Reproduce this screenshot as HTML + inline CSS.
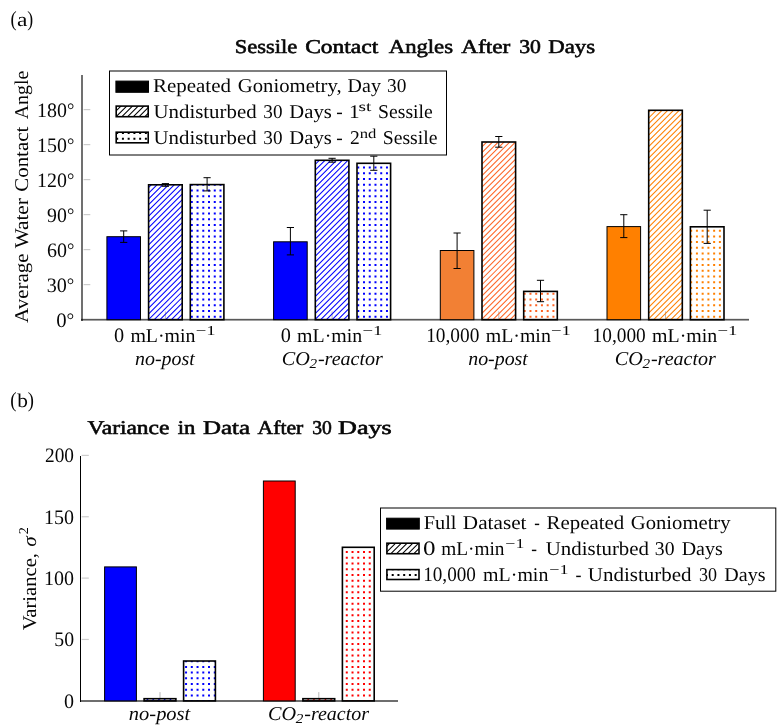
<!DOCTYPE html>
<html><head><meta charset="utf-8"><title>chart</title><style>
html,body{margin:0;padding:0;background:#fff;width:783px;height:728px;overflow:hidden;}
svg{display:block;}
text{font-family:"Liberation Serif",serif;fill:#000;white-space:pre;text-rendering:geometricPrecision;}

</style></head><body>
<svg width="783" height="728" viewBox="0 0 783 728">
<defs>
<clipPath id="c0"><rect x="148.60" y="184.80" width="33.60" height="134.90"/></clipPath>
<clipPath id="c1"><rect x="190.30" y="184.60" width="33.60" height="135.10"/></clipPath>
<clipPath id="c2"><rect x="315.30" y="160.30" width="33.60" height="159.40"/></clipPath>
<clipPath id="c3"><rect x="357.00" y="163.30" width="33.60" height="156.40"/></clipPath>
<clipPath id="c4"><rect x="482.00" y="142.00" width="33.60" height="177.70"/></clipPath>
<clipPath id="c5"><rect x="523.70" y="291.40" width="33.60" height="28.30"/></clipPath>
<clipPath id="c6"><rect x="648.70" y="110.30" width="33.60" height="209.40"/></clipPath>
<clipPath id="c7"><rect x="690.40" y="226.80" width="33.60" height="92.90"/></clipPath>
<clipPath id="c8"><rect x="116.20" y="106.10" width="32.00" height="10.60"/></clipPath>
<clipPath id="c9"><rect x="116.20" y="132.20" width="32.00" height="10.60"/></clipPath>
<clipPath id="c10"><rect x="144.10" y="698.70" width="31.80" height="2.20"/></clipPath>
<clipPath id="c11"><rect x="183.60" y="661.00" width="31.80" height="39.90"/></clipPath>
<clipPath id="c12"><rect x="302.90" y="698.70" width="31.80" height="2.20"/></clipPath>
<clipPath id="c13"><rect x="342.40" y="547.30" width="31.80" height="153.60"/></clipPath>
<clipPath id="c14"><rect x="386.90" y="543.20" width="32.10" height="10.50"/></clipPath>
<clipPath id="c15"><rect x="386.90" y="569.60" width="32.10" height="9.90"/></clipPath>
</defs>
<rect width="783" height="728" fill="#fff"/>
<g shape-rendering="crispEdges"><rect x="81" y="75" width="1" height="246" fill="#000" fill-opacity="0.56"/><rect x="82" y="75" width="1" height="246" fill="#000" fill-opacity="0.56"/><rect x="81" y="318" width="668" height="1" fill="#000" fill-opacity="0.10"/><rect x="81" y="319" width="668" height="1" fill="#000" fill-opacity="0.65"/><rect x="81" y="320" width="668" height="1" fill="#000" fill-opacity="0.37"/></g>
<path d="M83.6,284.60 H90.3" stroke="#cccccc" stroke-width="1.2"/>
<path d="M83.6,249.60 H90.3" stroke="#cccccc" stroke-width="1.2"/>
<path d="M83.6,214.60 H90.3" stroke="#cccccc" stroke-width="1.2"/>
<path d="M83.6,179.60 H90.3" stroke="#cccccc" stroke-width="1.2"/>
<path d="M83.6,144.60 H90.3" stroke="#cccccc" stroke-width="1.2"/>
<path d="M83.6,109.60 H90.3" stroke="#cccccc" stroke-width="1.2"/>
<path d="M165.40,319.2 V311.4" stroke="#888888" stroke-width="0.6"/>
<path d="M332.10,319.2 V311.4" stroke="#888888" stroke-width="0.6"/>
<path d="M498.80,319.2 V311.4" stroke="#888888" stroke-width="0.6"/>
<path d="M665.50,319.2 V311.4" stroke="#888888" stroke-width="0.6"/>
<rect x="106.90" y="236.70" width="33.60" height="83.00" fill="#0000ff" stroke="#000" stroke-width="1.00"/>
<g clip-path="url(#c0)"><path d="M146.60,178.04 L184.20,140.44 M146.60,183.78 L184.20,146.18 M146.60,189.52 L184.20,151.92 M146.60,195.26 L184.20,157.66 M146.60,201.00 L184.20,163.40 M146.60,206.74 L184.20,169.14 M146.60,212.48 L184.20,174.88 M146.60,218.22 L184.20,180.62 M146.60,223.96 L184.20,186.36 M146.60,229.70 L184.20,192.10 M146.60,235.44 L184.20,197.84 M146.60,241.18 L184.20,203.58 M146.60,246.92 L184.20,209.32 M146.60,252.66 L184.20,215.06 M146.60,258.40 L184.20,220.80 M146.60,264.14 L184.20,226.54 M146.60,269.88 L184.20,232.28 M146.60,275.62 L184.20,238.02 M146.60,281.36 L184.20,243.76 M146.60,287.10 L184.20,249.50 M146.60,292.84 L184.20,255.24 M146.60,298.58 L184.20,260.98 M146.60,304.32 L184.20,266.72 M146.60,310.06 L184.20,272.46 M146.60,315.80 L184.20,278.20 M146.60,321.54 L184.20,283.94 M146.60,327.28 L184.20,289.68 M146.60,333.02 L184.20,295.42 M146.60,338.76 L184.20,301.16 M146.60,344.50 L184.20,306.90 M146.60,350.24 L184.20,312.64 M146.60,355.98 L184.20,318.38 M146.60,361.72 L184.20,324.12" stroke="#0000ff" stroke-width="1.05" fill="none"/></g><rect x="148.60" y="184.80" width="33.60" height="134.90" fill="none" stroke="#000" stroke-width="1.60"/>
<g clip-path="url(#c1)"><path d="M190.80,183.72h2.00v2.00h-2.00zM190.80,189.46h2.00v2.00h-2.00zM190.80,195.20h2.00v2.00h-2.00zM190.80,200.94h2.00v2.00h-2.00zM190.80,206.68h2.00v2.00h-2.00zM190.80,212.42h2.00v2.00h-2.00zM190.80,218.16h2.00v2.00h-2.00zM190.80,223.90h2.00v2.00h-2.00zM190.80,229.64h2.00v2.00h-2.00zM190.80,235.38h2.00v2.00h-2.00zM190.80,241.12h2.00v2.00h-2.00zM190.80,246.86h2.00v2.00h-2.00zM190.80,252.60h2.00v2.00h-2.00zM190.80,258.34h2.00v2.00h-2.00zM190.80,264.08h2.00v2.00h-2.00zM190.80,269.82h2.00v2.00h-2.00zM190.80,275.56h2.00v2.00h-2.00zM190.80,281.30h2.00v2.00h-2.00zM190.80,287.04h2.00v2.00h-2.00zM190.80,292.78h2.00v2.00h-2.00zM190.80,298.52h2.00v2.00h-2.00zM190.80,304.26h2.00v2.00h-2.00zM190.80,310.00h2.00v2.00h-2.00zM190.80,315.74h2.00v2.00h-2.00zM196.54,183.72h2.00v2.00h-2.00zM196.54,189.46h2.00v2.00h-2.00zM196.54,195.20h2.00v2.00h-2.00zM196.54,200.94h2.00v2.00h-2.00zM196.54,206.68h2.00v2.00h-2.00zM196.54,212.42h2.00v2.00h-2.00zM196.54,218.16h2.00v2.00h-2.00zM196.54,223.90h2.00v2.00h-2.00zM196.54,229.64h2.00v2.00h-2.00zM196.54,235.38h2.00v2.00h-2.00zM196.54,241.12h2.00v2.00h-2.00zM196.54,246.86h2.00v2.00h-2.00zM196.54,252.60h2.00v2.00h-2.00zM196.54,258.34h2.00v2.00h-2.00zM196.54,264.08h2.00v2.00h-2.00zM196.54,269.82h2.00v2.00h-2.00zM196.54,275.56h2.00v2.00h-2.00zM196.54,281.30h2.00v2.00h-2.00zM196.54,287.04h2.00v2.00h-2.00zM196.54,292.78h2.00v2.00h-2.00zM196.54,298.52h2.00v2.00h-2.00zM196.54,304.26h2.00v2.00h-2.00zM196.54,310.00h2.00v2.00h-2.00zM196.54,315.74h2.00v2.00h-2.00zM202.28,183.72h2.00v2.00h-2.00zM202.28,189.46h2.00v2.00h-2.00zM202.28,195.20h2.00v2.00h-2.00zM202.28,200.94h2.00v2.00h-2.00zM202.28,206.68h2.00v2.00h-2.00zM202.28,212.42h2.00v2.00h-2.00zM202.28,218.16h2.00v2.00h-2.00zM202.28,223.90h2.00v2.00h-2.00zM202.28,229.64h2.00v2.00h-2.00zM202.28,235.38h2.00v2.00h-2.00zM202.28,241.12h2.00v2.00h-2.00zM202.28,246.86h2.00v2.00h-2.00zM202.28,252.60h2.00v2.00h-2.00zM202.28,258.34h2.00v2.00h-2.00zM202.28,264.08h2.00v2.00h-2.00zM202.28,269.82h2.00v2.00h-2.00zM202.28,275.56h2.00v2.00h-2.00zM202.28,281.30h2.00v2.00h-2.00zM202.28,287.04h2.00v2.00h-2.00zM202.28,292.78h2.00v2.00h-2.00zM202.28,298.52h2.00v2.00h-2.00zM202.28,304.26h2.00v2.00h-2.00zM202.28,310.00h2.00v2.00h-2.00zM202.28,315.74h2.00v2.00h-2.00zM208.02,183.72h2.00v2.00h-2.00zM208.02,189.46h2.00v2.00h-2.00zM208.02,195.20h2.00v2.00h-2.00zM208.02,200.94h2.00v2.00h-2.00zM208.02,206.68h2.00v2.00h-2.00zM208.02,212.42h2.00v2.00h-2.00zM208.02,218.16h2.00v2.00h-2.00zM208.02,223.90h2.00v2.00h-2.00zM208.02,229.64h2.00v2.00h-2.00zM208.02,235.38h2.00v2.00h-2.00zM208.02,241.12h2.00v2.00h-2.00zM208.02,246.86h2.00v2.00h-2.00zM208.02,252.60h2.00v2.00h-2.00zM208.02,258.34h2.00v2.00h-2.00zM208.02,264.08h2.00v2.00h-2.00zM208.02,269.82h2.00v2.00h-2.00zM208.02,275.56h2.00v2.00h-2.00zM208.02,281.30h2.00v2.00h-2.00zM208.02,287.04h2.00v2.00h-2.00zM208.02,292.78h2.00v2.00h-2.00zM208.02,298.52h2.00v2.00h-2.00zM208.02,304.26h2.00v2.00h-2.00zM208.02,310.00h2.00v2.00h-2.00zM208.02,315.74h2.00v2.00h-2.00zM213.76,183.72h2.00v2.00h-2.00zM213.76,189.46h2.00v2.00h-2.00zM213.76,195.20h2.00v2.00h-2.00zM213.76,200.94h2.00v2.00h-2.00zM213.76,206.68h2.00v2.00h-2.00zM213.76,212.42h2.00v2.00h-2.00zM213.76,218.16h2.00v2.00h-2.00zM213.76,223.90h2.00v2.00h-2.00zM213.76,229.64h2.00v2.00h-2.00zM213.76,235.38h2.00v2.00h-2.00zM213.76,241.12h2.00v2.00h-2.00zM213.76,246.86h2.00v2.00h-2.00zM213.76,252.60h2.00v2.00h-2.00zM213.76,258.34h2.00v2.00h-2.00zM213.76,264.08h2.00v2.00h-2.00zM213.76,269.82h2.00v2.00h-2.00zM213.76,275.56h2.00v2.00h-2.00zM213.76,281.30h2.00v2.00h-2.00zM213.76,287.04h2.00v2.00h-2.00zM213.76,292.78h2.00v2.00h-2.00zM213.76,298.52h2.00v2.00h-2.00zM213.76,304.26h2.00v2.00h-2.00zM213.76,310.00h2.00v2.00h-2.00zM213.76,315.74h2.00v2.00h-2.00zM219.50,183.72h2.00v2.00h-2.00zM219.50,189.46h2.00v2.00h-2.00zM219.50,195.20h2.00v2.00h-2.00zM219.50,200.94h2.00v2.00h-2.00zM219.50,206.68h2.00v2.00h-2.00zM219.50,212.42h2.00v2.00h-2.00zM219.50,218.16h2.00v2.00h-2.00zM219.50,223.90h2.00v2.00h-2.00zM219.50,229.64h2.00v2.00h-2.00zM219.50,235.38h2.00v2.00h-2.00zM219.50,241.12h2.00v2.00h-2.00zM219.50,246.86h2.00v2.00h-2.00zM219.50,252.60h2.00v2.00h-2.00zM219.50,258.34h2.00v2.00h-2.00zM219.50,264.08h2.00v2.00h-2.00zM219.50,269.82h2.00v2.00h-2.00zM219.50,275.56h2.00v2.00h-2.00zM219.50,281.30h2.00v2.00h-2.00zM219.50,287.04h2.00v2.00h-2.00zM219.50,292.78h2.00v2.00h-2.00zM219.50,298.52h2.00v2.00h-2.00zM219.50,304.26h2.00v2.00h-2.00zM219.50,310.00h2.00v2.00h-2.00zM219.50,315.74h2.00v2.00h-2.00z" fill="#0000ff"/></g><rect x="190.30" y="184.60" width="33.60" height="135.10" fill="none" stroke="#000" stroke-width="1.60"/>
<rect x="273.60" y="241.80" width="33.60" height="77.90" fill="#0000ff" stroke="#000" stroke-width="1.00"/>
<g clip-path="url(#c2)"><path d="M313.30,154.84 L350.90,117.24 M313.30,160.58 L350.90,122.98 M313.30,166.32 L350.90,128.72 M313.30,172.06 L350.90,134.46 M313.30,177.80 L350.90,140.20 M313.30,183.54 L350.90,145.94 M313.30,189.28 L350.90,151.68 M313.30,195.02 L350.90,157.42 M313.30,200.76 L350.90,163.16 M313.30,206.50 L350.90,168.90 M313.30,212.24 L350.90,174.64 M313.30,217.98 L350.90,180.38 M313.30,223.72 L350.90,186.12 M313.30,229.46 L350.90,191.86 M313.30,235.20 L350.90,197.60 M313.30,240.94 L350.90,203.34 M313.30,246.68 L350.90,209.08 M313.30,252.42 L350.90,214.82 M313.30,258.16 L350.90,220.56 M313.30,263.90 L350.90,226.30 M313.30,269.64 L350.90,232.04 M313.30,275.38 L350.90,237.78 M313.30,281.12 L350.90,243.52 M313.30,286.86 L350.90,249.26 M313.30,292.60 L350.90,255.00 M313.30,298.34 L350.90,260.74 M313.30,304.08 L350.90,266.48 M313.30,309.82 L350.90,272.22 M313.30,315.56 L350.90,277.96 M313.30,321.30 L350.90,283.70 M313.30,327.04 L350.90,289.44 M313.30,332.78 L350.90,295.18 M313.30,338.52 L350.90,300.92 M313.30,344.26 L350.90,306.66 M313.30,350.00 L350.90,312.40 M313.30,355.74 L350.90,318.14 M313.30,361.48 L350.90,323.88" stroke="#0000ff" stroke-width="1.05" fill="none"/></g><rect x="315.30" y="160.30" width="33.60" height="159.40" fill="none" stroke="#000" stroke-width="1.60"/>
<g clip-path="url(#c3)"><path d="M357.26,160.76h2.00v2.00h-2.00zM357.26,166.50h2.00v2.00h-2.00zM357.26,172.24h2.00v2.00h-2.00zM357.26,177.98h2.00v2.00h-2.00zM357.26,183.72h2.00v2.00h-2.00zM357.26,189.46h2.00v2.00h-2.00zM357.26,195.20h2.00v2.00h-2.00zM357.26,200.94h2.00v2.00h-2.00zM357.26,206.68h2.00v2.00h-2.00zM357.26,212.42h2.00v2.00h-2.00zM357.26,218.16h2.00v2.00h-2.00zM357.26,223.90h2.00v2.00h-2.00zM357.26,229.64h2.00v2.00h-2.00zM357.26,235.38h2.00v2.00h-2.00zM357.26,241.12h2.00v2.00h-2.00zM357.26,246.86h2.00v2.00h-2.00zM357.26,252.60h2.00v2.00h-2.00zM357.26,258.34h2.00v2.00h-2.00zM357.26,264.08h2.00v2.00h-2.00zM357.26,269.82h2.00v2.00h-2.00zM357.26,275.56h2.00v2.00h-2.00zM357.26,281.30h2.00v2.00h-2.00zM357.26,287.04h2.00v2.00h-2.00zM357.26,292.78h2.00v2.00h-2.00zM357.26,298.52h2.00v2.00h-2.00zM357.26,304.26h2.00v2.00h-2.00zM357.26,310.00h2.00v2.00h-2.00zM357.26,315.74h2.00v2.00h-2.00zM363.00,160.76h2.00v2.00h-2.00zM363.00,166.50h2.00v2.00h-2.00zM363.00,172.24h2.00v2.00h-2.00zM363.00,177.98h2.00v2.00h-2.00zM363.00,183.72h2.00v2.00h-2.00zM363.00,189.46h2.00v2.00h-2.00zM363.00,195.20h2.00v2.00h-2.00zM363.00,200.94h2.00v2.00h-2.00zM363.00,206.68h2.00v2.00h-2.00zM363.00,212.42h2.00v2.00h-2.00zM363.00,218.16h2.00v2.00h-2.00zM363.00,223.90h2.00v2.00h-2.00zM363.00,229.64h2.00v2.00h-2.00zM363.00,235.38h2.00v2.00h-2.00zM363.00,241.12h2.00v2.00h-2.00zM363.00,246.86h2.00v2.00h-2.00zM363.00,252.60h2.00v2.00h-2.00zM363.00,258.34h2.00v2.00h-2.00zM363.00,264.08h2.00v2.00h-2.00zM363.00,269.82h2.00v2.00h-2.00zM363.00,275.56h2.00v2.00h-2.00zM363.00,281.30h2.00v2.00h-2.00zM363.00,287.04h2.00v2.00h-2.00zM363.00,292.78h2.00v2.00h-2.00zM363.00,298.52h2.00v2.00h-2.00zM363.00,304.26h2.00v2.00h-2.00zM363.00,310.00h2.00v2.00h-2.00zM363.00,315.74h2.00v2.00h-2.00zM368.74,160.76h2.00v2.00h-2.00zM368.74,166.50h2.00v2.00h-2.00zM368.74,172.24h2.00v2.00h-2.00zM368.74,177.98h2.00v2.00h-2.00zM368.74,183.72h2.00v2.00h-2.00zM368.74,189.46h2.00v2.00h-2.00zM368.74,195.20h2.00v2.00h-2.00zM368.74,200.94h2.00v2.00h-2.00zM368.74,206.68h2.00v2.00h-2.00zM368.74,212.42h2.00v2.00h-2.00zM368.74,218.16h2.00v2.00h-2.00zM368.74,223.90h2.00v2.00h-2.00zM368.74,229.64h2.00v2.00h-2.00zM368.74,235.38h2.00v2.00h-2.00zM368.74,241.12h2.00v2.00h-2.00zM368.74,246.86h2.00v2.00h-2.00zM368.74,252.60h2.00v2.00h-2.00zM368.74,258.34h2.00v2.00h-2.00zM368.74,264.08h2.00v2.00h-2.00zM368.74,269.82h2.00v2.00h-2.00zM368.74,275.56h2.00v2.00h-2.00zM368.74,281.30h2.00v2.00h-2.00zM368.74,287.04h2.00v2.00h-2.00zM368.74,292.78h2.00v2.00h-2.00zM368.74,298.52h2.00v2.00h-2.00zM368.74,304.26h2.00v2.00h-2.00zM368.74,310.00h2.00v2.00h-2.00zM368.74,315.74h2.00v2.00h-2.00zM374.48,160.76h2.00v2.00h-2.00zM374.48,166.50h2.00v2.00h-2.00zM374.48,172.24h2.00v2.00h-2.00zM374.48,177.98h2.00v2.00h-2.00zM374.48,183.72h2.00v2.00h-2.00zM374.48,189.46h2.00v2.00h-2.00zM374.48,195.20h2.00v2.00h-2.00zM374.48,200.94h2.00v2.00h-2.00zM374.48,206.68h2.00v2.00h-2.00zM374.48,212.42h2.00v2.00h-2.00zM374.48,218.16h2.00v2.00h-2.00zM374.48,223.90h2.00v2.00h-2.00zM374.48,229.64h2.00v2.00h-2.00zM374.48,235.38h2.00v2.00h-2.00zM374.48,241.12h2.00v2.00h-2.00zM374.48,246.86h2.00v2.00h-2.00zM374.48,252.60h2.00v2.00h-2.00zM374.48,258.34h2.00v2.00h-2.00zM374.48,264.08h2.00v2.00h-2.00zM374.48,269.82h2.00v2.00h-2.00zM374.48,275.56h2.00v2.00h-2.00zM374.48,281.30h2.00v2.00h-2.00zM374.48,287.04h2.00v2.00h-2.00zM374.48,292.78h2.00v2.00h-2.00zM374.48,298.52h2.00v2.00h-2.00zM374.48,304.26h2.00v2.00h-2.00zM374.48,310.00h2.00v2.00h-2.00zM374.48,315.74h2.00v2.00h-2.00zM380.22,160.76h2.00v2.00h-2.00zM380.22,166.50h2.00v2.00h-2.00zM380.22,172.24h2.00v2.00h-2.00zM380.22,177.98h2.00v2.00h-2.00zM380.22,183.72h2.00v2.00h-2.00zM380.22,189.46h2.00v2.00h-2.00zM380.22,195.20h2.00v2.00h-2.00zM380.22,200.94h2.00v2.00h-2.00zM380.22,206.68h2.00v2.00h-2.00zM380.22,212.42h2.00v2.00h-2.00zM380.22,218.16h2.00v2.00h-2.00zM380.22,223.90h2.00v2.00h-2.00zM380.22,229.64h2.00v2.00h-2.00zM380.22,235.38h2.00v2.00h-2.00zM380.22,241.12h2.00v2.00h-2.00zM380.22,246.86h2.00v2.00h-2.00zM380.22,252.60h2.00v2.00h-2.00zM380.22,258.34h2.00v2.00h-2.00zM380.22,264.08h2.00v2.00h-2.00zM380.22,269.82h2.00v2.00h-2.00zM380.22,275.56h2.00v2.00h-2.00zM380.22,281.30h2.00v2.00h-2.00zM380.22,287.04h2.00v2.00h-2.00zM380.22,292.78h2.00v2.00h-2.00zM380.22,298.52h2.00v2.00h-2.00zM380.22,304.26h2.00v2.00h-2.00zM380.22,310.00h2.00v2.00h-2.00zM380.22,315.74h2.00v2.00h-2.00zM385.96,160.76h2.00v2.00h-2.00zM385.96,166.50h2.00v2.00h-2.00zM385.96,172.24h2.00v2.00h-2.00zM385.96,177.98h2.00v2.00h-2.00zM385.96,183.72h2.00v2.00h-2.00zM385.96,189.46h2.00v2.00h-2.00zM385.96,195.20h2.00v2.00h-2.00zM385.96,200.94h2.00v2.00h-2.00zM385.96,206.68h2.00v2.00h-2.00zM385.96,212.42h2.00v2.00h-2.00zM385.96,218.16h2.00v2.00h-2.00zM385.96,223.90h2.00v2.00h-2.00zM385.96,229.64h2.00v2.00h-2.00zM385.96,235.38h2.00v2.00h-2.00zM385.96,241.12h2.00v2.00h-2.00zM385.96,246.86h2.00v2.00h-2.00zM385.96,252.60h2.00v2.00h-2.00zM385.96,258.34h2.00v2.00h-2.00zM385.96,264.08h2.00v2.00h-2.00zM385.96,269.82h2.00v2.00h-2.00zM385.96,275.56h2.00v2.00h-2.00zM385.96,281.30h2.00v2.00h-2.00zM385.96,287.04h2.00v2.00h-2.00zM385.96,292.78h2.00v2.00h-2.00zM385.96,298.52h2.00v2.00h-2.00zM385.96,304.26h2.00v2.00h-2.00zM385.96,310.00h2.00v2.00h-2.00zM385.96,315.74h2.00v2.00h-2.00z" fill="#0000ff"/></g><rect x="357.00" y="163.30" width="33.60" height="156.40" fill="none" stroke="#000" stroke-width="1.60"/>
<rect x="440.30" y="250.50" width="33.60" height="69.20" fill="#f28034" stroke="#000" stroke-width="1.00"/>
<g clip-path="url(#c4)"><path d="M480.00,137.38 L517.60,99.78 M480.00,143.12 L517.60,105.52 M480.00,148.86 L517.60,111.26 M480.00,154.60 L517.60,117.00 M480.00,160.34 L517.60,122.74 M480.00,166.08 L517.60,128.48 M480.00,171.82 L517.60,134.22 M480.00,177.56 L517.60,139.96 M480.00,183.30 L517.60,145.70 M480.00,189.04 L517.60,151.44 M480.00,194.78 L517.60,157.18 M480.00,200.52 L517.60,162.92 M480.00,206.26 L517.60,168.66 M480.00,212.00 L517.60,174.40 M480.00,217.74 L517.60,180.14 M480.00,223.48 L517.60,185.88 M480.00,229.22 L517.60,191.62 M480.00,234.96 L517.60,197.36 M480.00,240.70 L517.60,203.10 M480.00,246.44 L517.60,208.84 M480.00,252.18 L517.60,214.58 M480.00,257.92 L517.60,220.32 M480.00,263.66 L517.60,226.06 M480.00,269.40 L517.60,231.80 M480.00,275.14 L517.60,237.54 M480.00,280.88 L517.60,243.28 M480.00,286.62 L517.60,249.02 M480.00,292.36 L517.60,254.76 M480.00,298.10 L517.60,260.50 M480.00,303.84 L517.60,266.24 M480.00,309.58 L517.60,271.98 M480.00,315.32 L517.60,277.72 M480.00,321.06 L517.60,283.46 M480.00,326.80 L517.60,289.20 M480.00,332.54 L517.60,294.94 M480.00,338.28 L517.60,300.68 M480.00,344.02 L517.60,306.42 M480.00,349.76 L517.60,312.16 M480.00,355.50 L517.60,317.90 M480.00,361.24 L517.60,323.64" stroke="#ff6424" stroke-width="1.05" fill="none"/></g><rect x="482.00" y="142.00" width="33.60" height="177.70" fill="none" stroke="#000" stroke-width="1.60"/>
<g clip-path="url(#c5)"><path d="M523.72,292.78h2.00v2.00h-2.00zM523.72,298.52h2.00v2.00h-2.00zM523.72,304.26h2.00v2.00h-2.00zM523.72,310.00h2.00v2.00h-2.00zM523.72,315.74h2.00v2.00h-2.00zM529.46,292.78h2.00v2.00h-2.00zM529.46,298.52h2.00v2.00h-2.00zM529.46,304.26h2.00v2.00h-2.00zM529.46,310.00h2.00v2.00h-2.00zM529.46,315.74h2.00v2.00h-2.00zM535.20,292.78h2.00v2.00h-2.00zM535.20,298.52h2.00v2.00h-2.00zM535.20,304.26h2.00v2.00h-2.00zM535.20,310.00h2.00v2.00h-2.00zM535.20,315.74h2.00v2.00h-2.00zM540.94,292.78h2.00v2.00h-2.00zM540.94,298.52h2.00v2.00h-2.00zM540.94,304.26h2.00v2.00h-2.00zM540.94,310.00h2.00v2.00h-2.00zM540.94,315.74h2.00v2.00h-2.00zM546.68,292.78h2.00v2.00h-2.00zM546.68,298.52h2.00v2.00h-2.00zM546.68,304.26h2.00v2.00h-2.00zM546.68,310.00h2.00v2.00h-2.00zM546.68,315.74h2.00v2.00h-2.00zM552.42,292.78h2.00v2.00h-2.00zM552.42,298.52h2.00v2.00h-2.00zM552.42,304.26h2.00v2.00h-2.00zM552.42,310.00h2.00v2.00h-2.00zM552.42,315.74h2.00v2.00h-2.00zM558.16,292.78h2.00v2.00h-2.00zM558.16,298.52h2.00v2.00h-2.00zM558.16,304.26h2.00v2.00h-2.00zM558.16,310.00h2.00v2.00h-2.00zM558.16,315.74h2.00v2.00h-2.00z" fill="#ff6424"/></g><rect x="523.70" y="291.40" width="33.60" height="28.30" fill="none" stroke="#000" stroke-width="1.60"/>
<rect x="607.00" y="226.60" width="33.60" height="93.10" fill="#ff8000" stroke="#000" stroke-width="1.00"/>
<g clip-path="url(#c6)"><path d="M646.70,102.70 L684.30,65.10 M646.70,108.44 L684.30,70.84 M646.70,114.18 L684.30,76.58 M646.70,119.92 L684.30,82.32 M646.70,125.66 L684.30,88.06 M646.70,131.40 L684.30,93.80 M646.70,137.14 L684.30,99.54 M646.70,142.88 L684.30,105.28 M646.70,148.62 L684.30,111.02 M646.70,154.36 L684.30,116.76 M646.70,160.10 L684.30,122.50 M646.70,165.84 L684.30,128.24 M646.70,171.58 L684.30,133.98 M646.70,177.32 L684.30,139.72 M646.70,183.06 L684.30,145.46 M646.70,188.80 L684.30,151.20 M646.70,194.54 L684.30,156.94 M646.70,200.28 L684.30,162.68 M646.70,206.02 L684.30,168.42 M646.70,211.76 L684.30,174.16 M646.70,217.50 L684.30,179.90 M646.70,223.24 L684.30,185.64 M646.70,228.98 L684.30,191.38 M646.70,234.72 L684.30,197.12 M646.70,240.46 L684.30,202.86 M646.70,246.20 L684.30,208.60 M646.70,251.94 L684.30,214.34 M646.70,257.68 L684.30,220.08 M646.70,263.42 L684.30,225.82 M646.70,269.16 L684.30,231.56 M646.70,274.90 L684.30,237.30 M646.70,280.64 L684.30,243.04 M646.70,286.38 L684.30,248.78 M646.70,292.12 L684.30,254.52 M646.70,297.86 L684.30,260.26 M646.70,303.60 L684.30,266.00 M646.70,309.34 L684.30,271.74 M646.70,315.08 L684.30,277.48 M646.70,320.82 L684.30,283.22 M646.70,326.56 L684.30,288.96 M646.70,332.30 L684.30,294.70 M646.70,338.04 L684.30,300.44 M646.70,343.78 L684.30,306.18 M646.70,349.52 L684.30,311.92 M646.70,355.26 L684.30,317.66 M646.70,361.00 L684.30,323.40 M646.70,366.74 L684.30,329.14" stroke="#ff8000" stroke-width="1.05" fill="none"/></g><rect x="648.70" y="110.30" width="33.60" height="209.40" fill="none" stroke="#000" stroke-width="1.60"/>
<g clip-path="url(#c7)"><path d="M690.18,223.90h2.00v2.00h-2.00zM690.18,229.64h2.00v2.00h-2.00zM690.18,235.38h2.00v2.00h-2.00zM690.18,241.12h2.00v2.00h-2.00zM690.18,246.86h2.00v2.00h-2.00zM690.18,252.60h2.00v2.00h-2.00zM690.18,258.34h2.00v2.00h-2.00zM690.18,264.08h2.00v2.00h-2.00zM690.18,269.82h2.00v2.00h-2.00zM690.18,275.56h2.00v2.00h-2.00zM690.18,281.30h2.00v2.00h-2.00zM690.18,287.04h2.00v2.00h-2.00zM690.18,292.78h2.00v2.00h-2.00zM690.18,298.52h2.00v2.00h-2.00zM690.18,304.26h2.00v2.00h-2.00zM690.18,310.00h2.00v2.00h-2.00zM690.18,315.74h2.00v2.00h-2.00zM695.92,223.90h2.00v2.00h-2.00zM695.92,229.64h2.00v2.00h-2.00zM695.92,235.38h2.00v2.00h-2.00zM695.92,241.12h2.00v2.00h-2.00zM695.92,246.86h2.00v2.00h-2.00zM695.92,252.60h2.00v2.00h-2.00zM695.92,258.34h2.00v2.00h-2.00zM695.92,264.08h2.00v2.00h-2.00zM695.92,269.82h2.00v2.00h-2.00zM695.92,275.56h2.00v2.00h-2.00zM695.92,281.30h2.00v2.00h-2.00zM695.92,287.04h2.00v2.00h-2.00zM695.92,292.78h2.00v2.00h-2.00zM695.92,298.52h2.00v2.00h-2.00zM695.92,304.26h2.00v2.00h-2.00zM695.92,310.00h2.00v2.00h-2.00zM695.92,315.74h2.00v2.00h-2.00zM701.66,223.90h2.00v2.00h-2.00zM701.66,229.64h2.00v2.00h-2.00zM701.66,235.38h2.00v2.00h-2.00zM701.66,241.12h2.00v2.00h-2.00zM701.66,246.86h2.00v2.00h-2.00zM701.66,252.60h2.00v2.00h-2.00zM701.66,258.34h2.00v2.00h-2.00zM701.66,264.08h2.00v2.00h-2.00zM701.66,269.82h2.00v2.00h-2.00zM701.66,275.56h2.00v2.00h-2.00zM701.66,281.30h2.00v2.00h-2.00zM701.66,287.04h2.00v2.00h-2.00zM701.66,292.78h2.00v2.00h-2.00zM701.66,298.52h2.00v2.00h-2.00zM701.66,304.26h2.00v2.00h-2.00zM701.66,310.00h2.00v2.00h-2.00zM701.66,315.74h2.00v2.00h-2.00zM707.40,223.90h2.00v2.00h-2.00zM707.40,229.64h2.00v2.00h-2.00zM707.40,235.38h2.00v2.00h-2.00zM707.40,241.12h2.00v2.00h-2.00zM707.40,246.86h2.00v2.00h-2.00zM707.40,252.60h2.00v2.00h-2.00zM707.40,258.34h2.00v2.00h-2.00zM707.40,264.08h2.00v2.00h-2.00zM707.40,269.82h2.00v2.00h-2.00zM707.40,275.56h2.00v2.00h-2.00zM707.40,281.30h2.00v2.00h-2.00zM707.40,287.04h2.00v2.00h-2.00zM707.40,292.78h2.00v2.00h-2.00zM707.40,298.52h2.00v2.00h-2.00zM707.40,304.26h2.00v2.00h-2.00zM707.40,310.00h2.00v2.00h-2.00zM707.40,315.74h2.00v2.00h-2.00zM713.14,223.90h2.00v2.00h-2.00zM713.14,229.64h2.00v2.00h-2.00zM713.14,235.38h2.00v2.00h-2.00zM713.14,241.12h2.00v2.00h-2.00zM713.14,246.86h2.00v2.00h-2.00zM713.14,252.60h2.00v2.00h-2.00zM713.14,258.34h2.00v2.00h-2.00zM713.14,264.08h2.00v2.00h-2.00zM713.14,269.82h2.00v2.00h-2.00zM713.14,275.56h2.00v2.00h-2.00zM713.14,281.30h2.00v2.00h-2.00zM713.14,287.04h2.00v2.00h-2.00zM713.14,292.78h2.00v2.00h-2.00zM713.14,298.52h2.00v2.00h-2.00zM713.14,304.26h2.00v2.00h-2.00zM713.14,310.00h2.00v2.00h-2.00zM713.14,315.74h2.00v2.00h-2.00zM718.88,223.90h2.00v2.00h-2.00zM718.88,229.64h2.00v2.00h-2.00zM718.88,235.38h2.00v2.00h-2.00zM718.88,241.12h2.00v2.00h-2.00zM718.88,246.86h2.00v2.00h-2.00zM718.88,252.60h2.00v2.00h-2.00zM718.88,258.34h2.00v2.00h-2.00zM718.88,264.08h2.00v2.00h-2.00zM718.88,269.82h2.00v2.00h-2.00zM718.88,275.56h2.00v2.00h-2.00zM718.88,281.30h2.00v2.00h-2.00zM718.88,287.04h2.00v2.00h-2.00zM718.88,292.78h2.00v2.00h-2.00zM718.88,298.52h2.00v2.00h-2.00zM718.88,304.26h2.00v2.00h-2.00zM718.88,310.00h2.00v2.00h-2.00zM718.88,315.74h2.00v2.00h-2.00zM724.62,223.90h2.00v2.00h-2.00zM724.62,229.64h2.00v2.00h-2.00zM724.62,235.38h2.00v2.00h-2.00zM724.62,241.12h2.00v2.00h-2.00zM724.62,246.86h2.00v2.00h-2.00zM724.62,252.60h2.00v2.00h-2.00zM724.62,258.34h2.00v2.00h-2.00zM724.62,264.08h2.00v2.00h-2.00zM724.62,269.82h2.00v2.00h-2.00zM724.62,275.56h2.00v2.00h-2.00zM724.62,281.30h2.00v2.00h-2.00zM724.62,287.04h2.00v2.00h-2.00zM724.62,292.78h2.00v2.00h-2.00zM724.62,298.52h2.00v2.00h-2.00zM724.62,304.26h2.00v2.00h-2.00zM724.62,310.00h2.00v2.00h-2.00zM724.62,315.74h2.00v2.00h-2.00z" fill="#ff8000"/></g><rect x="690.40" y="226.80" width="33.60" height="92.90" fill="none" stroke="#000" stroke-width="1.60"/>
<path d="M120.10,230.90 H127.30 M123.70,230.90 V242.40 M120.10,242.40 H127.30" stroke="#000" stroke-width="1.0" fill="none"/>
<path d="M161.80,183.60 H169.00 M165.40,183.60 V186.30 M161.80,186.30 H169.00" stroke="#000" stroke-width="1.0" fill="none"/>
<path d="M203.50,177.70 H210.70 M207.10,177.70 V190.90 M203.50,190.90 H210.70" stroke="#000" stroke-width="1.0" fill="none"/>
<path d="M286.80,227.50 H294.00 M290.40,227.50 V254.90 M286.80,254.90 H294.00" stroke="#000" stroke-width="1.0" fill="none"/>
<path d="M328.50,158.30 H335.70 M332.10,158.30 V162.20 M328.50,162.20 H335.70" stroke="#000" stroke-width="1.0" fill="none"/>
<path d="M370.20,156.20 H377.40 M373.80,156.20 V170.30 M370.20,170.30 H377.40" stroke="#000" stroke-width="1.0" fill="none"/>
<path d="M453.50,233.00 H460.70 M457.10,233.00 V268.50 M453.50,268.50 H460.70" stroke="#000" stroke-width="1.0" fill="none"/>
<path d="M495.20,136.50 H502.40 M498.80,136.50 V147.20 M495.20,147.20 H502.40" stroke="#000" stroke-width="1.0" fill="none"/>
<path d="M536.90,280.30 H544.10 M540.50,280.30 V301.70 M536.90,301.70 H544.10" stroke="#000" stroke-width="1.0" fill="none"/>
<path d="M620.20,214.70 H627.40 M623.80,214.70 V237.60 M620.20,237.60 H627.40" stroke="#000" stroke-width="1.0" fill="none"/>
<path d="M703.60,210.20 H710.80 M707.20,210.20 V243.40 M703.60,243.40 H710.80" stroke="#000" stroke-width="1.0" fill="none"/>
<rect x="109.5" y="71.0" width="337.0" height="84.0" fill="#fff" stroke="#000" stroke-width="1"/>
<rect x="115.9" y="81.1" width="32.6" height="11.2" fill="#000" stroke="#000" stroke-width="1"/>
<g clip-path="url(#c8)"><path d="M114.20,101.38 L150.20,65.38 M114.20,107.12 L150.20,71.12 M114.20,112.86 L150.20,76.86 M114.20,118.60 L150.20,82.60 M114.20,124.34 L150.20,88.34 M114.20,130.08 L150.20,94.08 M114.20,135.82 L150.20,99.82 M114.20,141.56 L150.20,105.56 M114.20,147.30 L150.20,111.30 M114.20,153.04 L150.20,117.04 M114.20,158.78 L150.20,122.78" stroke="#000" stroke-width="1.05" fill="none"/></g><rect x="116.2" y="106.1" width="32.0" height="10.6" fill="none" stroke="#000" stroke-width="1.6"/>
<g clip-path="url(#c9)"><path d="M116.18,132.06h2.00v2.00h-2.00zM116.18,137.80h2.00v2.00h-2.00zM116.18,143.54h2.00v2.00h-2.00zM121.92,132.06h2.00v2.00h-2.00zM121.92,137.80h2.00v2.00h-2.00zM121.92,143.54h2.00v2.00h-2.00zM127.66,132.06h2.00v2.00h-2.00zM127.66,137.80h2.00v2.00h-2.00zM127.66,143.54h2.00v2.00h-2.00zM133.40,132.06h2.00v2.00h-2.00zM133.40,137.80h2.00v2.00h-2.00zM133.40,143.54h2.00v2.00h-2.00zM139.14,132.06h2.00v2.00h-2.00zM139.14,137.80h2.00v2.00h-2.00zM139.14,143.54h2.00v2.00h-2.00zM144.88,132.06h2.00v2.00h-2.00zM144.88,137.80h2.00v2.00h-2.00zM144.88,143.54h2.00v2.00h-2.00z" fill="#000"/></g><rect x="116.2" y="132.2" width="32.0" height="10.6" fill="none" stroke="#000" stroke-width="1.6"/>
<g shape-rendering="crispEdges"><rect x="80" y="455.5" width="1" height="246" fill="#000"/><rect x="80" y="700" width="318" height="1" fill="#000" fill-opacity="0.57"/><rect x="80" y="701" width="318" height="1" fill="#000" fill-opacity="0.57"/></g>
<path d="M81.6,639.45 H88.8" stroke="#cccccc" stroke-width="1.2"/>
<path d="M81.6,578.10 H88.8" stroke="#cccccc" stroke-width="1.2"/>
<path d="M81.6,516.75 H88.8" stroke="#cccccc" stroke-width="1.2"/>
<path d="M81.6,455.40 H88.8" stroke="#cccccc" stroke-width="1.2"/>
<path d="M160.00,700.3 V692.1" stroke="#888888" stroke-width="0.6"/>
<path d="M318.80,700.3 V692.1" stroke="#888888" stroke-width="0.6"/>
<rect x="104.60" y="566.90" width="31.80" height="134.00" fill="#0000ff" stroke="#000" stroke-width="1.00"/>
<g clip-path="url(#c10)"><path d="M142.10,693.40 L177.90,657.60 M142.10,699.14 L177.90,663.34 M142.10,704.88 L177.90,669.08 M142.10,710.62 L177.90,674.82 M142.10,716.36 L177.90,680.56 M142.10,722.10 L177.90,686.30 M142.10,727.84 L177.90,692.04 M142.10,733.58 L177.90,697.78 M142.10,739.32 L177.90,703.52 M142.10,745.06 L177.90,709.26" stroke="#0000ff" stroke-width="1.05" fill="none"/></g><rect x="144.10" y="698.70" width="31.80" height="2.20" fill="none" stroke="#000" stroke-width="1.60"/>
<g clip-path="url(#c11)"><path d="M185.06,660.14h2.00v2.00h-2.00zM185.06,665.88h2.00v2.00h-2.00zM185.06,671.62h2.00v2.00h-2.00zM185.06,677.36h2.00v2.00h-2.00zM185.06,683.10h2.00v2.00h-2.00zM185.06,688.84h2.00v2.00h-2.00zM185.06,694.58h2.00v2.00h-2.00zM185.06,700.32h2.00v2.00h-2.00zM190.80,660.14h2.00v2.00h-2.00zM190.80,665.88h2.00v2.00h-2.00zM190.80,671.62h2.00v2.00h-2.00zM190.80,677.36h2.00v2.00h-2.00zM190.80,683.10h2.00v2.00h-2.00zM190.80,688.84h2.00v2.00h-2.00zM190.80,694.58h2.00v2.00h-2.00zM190.80,700.32h2.00v2.00h-2.00zM196.54,660.14h2.00v2.00h-2.00zM196.54,665.88h2.00v2.00h-2.00zM196.54,671.62h2.00v2.00h-2.00zM196.54,677.36h2.00v2.00h-2.00zM196.54,683.10h2.00v2.00h-2.00zM196.54,688.84h2.00v2.00h-2.00zM196.54,694.58h2.00v2.00h-2.00zM196.54,700.32h2.00v2.00h-2.00zM202.28,660.14h2.00v2.00h-2.00zM202.28,665.88h2.00v2.00h-2.00zM202.28,671.62h2.00v2.00h-2.00zM202.28,677.36h2.00v2.00h-2.00zM202.28,683.10h2.00v2.00h-2.00zM202.28,688.84h2.00v2.00h-2.00zM202.28,694.58h2.00v2.00h-2.00zM202.28,700.32h2.00v2.00h-2.00zM208.02,660.14h2.00v2.00h-2.00zM208.02,665.88h2.00v2.00h-2.00zM208.02,671.62h2.00v2.00h-2.00zM208.02,677.36h2.00v2.00h-2.00zM208.02,683.10h2.00v2.00h-2.00zM208.02,688.84h2.00v2.00h-2.00zM208.02,694.58h2.00v2.00h-2.00zM208.02,700.32h2.00v2.00h-2.00zM213.76,660.14h2.00v2.00h-2.00zM213.76,665.88h2.00v2.00h-2.00zM213.76,671.62h2.00v2.00h-2.00zM213.76,677.36h2.00v2.00h-2.00zM213.76,683.10h2.00v2.00h-2.00zM213.76,688.84h2.00v2.00h-2.00zM213.76,694.58h2.00v2.00h-2.00zM213.76,700.32h2.00v2.00h-2.00z" fill="#0000ff"/></g><rect x="183.60" y="661.00" width="31.80" height="39.90" fill="none" stroke="#000" stroke-width="1.60"/>
<rect x="263.40" y="481.00" width="31.80" height="219.90" fill="#ff0000" stroke="#000" stroke-width="1.00"/>
<g clip-path="url(#c12)"><path d="M300.90,689.58 L336.70,653.78 M300.90,695.32 L336.70,659.52 M300.90,701.06 L336.70,665.26 M300.90,706.80 L336.70,671.00 M300.90,712.54 L336.70,676.74 M300.90,718.28 L336.70,682.48 M300.90,724.02 L336.70,688.22 M300.90,729.76 L336.70,693.96 M300.90,735.50 L336.70,699.70 M300.90,741.24 L336.70,705.44" stroke="#ff0000" stroke-width="1.05" fill="none"/></g><rect x="302.90" y="698.70" width="31.80" height="2.20" fill="none" stroke="#000" stroke-width="1.60"/>
<g clip-path="url(#c13)"><path d="M340.04,545.34h2.00v2.00h-2.00zM340.04,551.08h2.00v2.00h-2.00zM340.04,556.82h2.00v2.00h-2.00zM340.04,562.56h2.00v2.00h-2.00zM340.04,568.30h2.00v2.00h-2.00zM340.04,574.04h2.00v2.00h-2.00zM340.04,579.78h2.00v2.00h-2.00zM340.04,585.52h2.00v2.00h-2.00zM340.04,591.26h2.00v2.00h-2.00zM340.04,597.00h2.00v2.00h-2.00zM340.04,602.74h2.00v2.00h-2.00zM340.04,608.48h2.00v2.00h-2.00zM340.04,614.22h2.00v2.00h-2.00zM340.04,619.96h2.00v2.00h-2.00zM340.04,625.70h2.00v2.00h-2.00zM340.04,631.44h2.00v2.00h-2.00zM340.04,637.18h2.00v2.00h-2.00zM340.04,642.92h2.00v2.00h-2.00zM340.04,648.66h2.00v2.00h-2.00zM340.04,654.40h2.00v2.00h-2.00zM340.04,660.14h2.00v2.00h-2.00zM340.04,665.88h2.00v2.00h-2.00zM340.04,671.62h2.00v2.00h-2.00zM340.04,677.36h2.00v2.00h-2.00zM340.04,683.10h2.00v2.00h-2.00zM340.04,688.84h2.00v2.00h-2.00zM340.04,694.58h2.00v2.00h-2.00zM340.04,700.32h2.00v2.00h-2.00zM345.78,545.34h2.00v2.00h-2.00zM345.78,551.08h2.00v2.00h-2.00zM345.78,556.82h2.00v2.00h-2.00zM345.78,562.56h2.00v2.00h-2.00zM345.78,568.30h2.00v2.00h-2.00zM345.78,574.04h2.00v2.00h-2.00zM345.78,579.78h2.00v2.00h-2.00zM345.78,585.52h2.00v2.00h-2.00zM345.78,591.26h2.00v2.00h-2.00zM345.78,597.00h2.00v2.00h-2.00zM345.78,602.74h2.00v2.00h-2.00zM345.78,608.48h2.00v2.00h-2.00zM345.78,614.22h2.00v2.00h-2.00zM345.78,619.96h2.00v2.00h-2.00zM345.78,625.70h2.00v2.00h-2.00zM345.78,631.44h2.00v2.00h-2.00zM345.78,637.18h2.00v2.00h-2.00zM345.78,642.92h2.00v2.00h-2.00zM345.78,648.66h2.00v2.00h-2.00zM345.78,654.40h2.00v2.00h-2.00zM345.78,660.14h2.00v2.00h-2.00zM345.78,665.88h2.00v2.00h-2.00zM345.78,671.62h2.00v2.00h-2.00zM345.78,677.36h2.00v2.00h-2.00zM345.78,683.10h2.00v2.00h-2.00zM345.78,688.84h2.00v2.00h-2.00zM345.78,694.58h2.00v2.00h-2.00zM345.78,700.32h2.00v2.00h-2.00zM351.52,545.34h2.00v2.00h-2.00zM351.52,551.08h2.00v2.00h-2.00zM351.52,556.82h2.00v2.00h-2.00zM351.52,562.56h2.00v2.00h-2.00zM351.52,568.30h2.00v2.00h-2.00zM351.52,574.04h2.00v2.00h-2.00zM351.52,579.78h2.00v2.00h-2.00zM351.52,585.52h2.00v2.00h-2.00zM351.52,591.26h2.00v2.00h-2.00zM351.52,597.00h2.00v2.00h-2.00zM351.52,602.74h2.00v2.00h-2.00zM351.52,608.48h2.00v2.00h-2.00zM351.52,614.22h2.00v2.00h-2.00zM351.52,619.96h2.00v2.00h-2.00zM351.52,625.70h2.00v2.00h-2.00zM351.52,631.44h2.00v2.00h-2.00zM351.52,637.18h2.00v2.00h-2.00zM351.52,642.92h2.00v2.00h-2.00zM351.52,648.66h2.00v2.00h-2.00zM351.52,654.40h2.00v2.00h-2.00zM351.52,660.14h2.00v2.00h-2.00zM351.52,665.88h2.00v2.00h-2.00zM351.52,671.62h2.00v2.00h-2.00zM351.52,677.36h2.00v2.00h-2.00zM351.52,683.10h2.00v2.00h-2.00zM351.52,688.84h2.00v2.00h-2.00zM351.52,694.58h2.00v2.00h-2.00zM351.52,700.32h2.00v2.00h-2.00zM357.26,545.34h2.00v2.00h-2.00zM357.26,551.08h2.00v2.00h-2.00zM357.26,556.82h2.00v2.00h-2.00zM357.26,562.56h2.00v2.00h-2.00zM357.26,568.30h2.00v2.00h-2.00zM357.26,574.04h2.00v2.00h-2.00zM357.26,579.78h2.00v2.00h-2.00zM357.26,585.52h2.00v2.00h-2.00zM357.26,591.26h2.00v2.00h-2.00zM357.26,597.00h2.00v2.00h-2.00zM357.26,602.74h2.00v2.00h-2.00zM357.26,608.48h2.00v2.00h-2.00zM357.26,614.22h2.00v2.00h-2.00zM357.26,619.96h2.00v2.00h-2.00zM357.26,625.70h2.00v2.00h-2.00zM357.26,631.44h2.00v2.00h-2.00zM357.26,637.18h2.00v2.00h-2.00zM357.26,642.92h2.00v2.00h-2.00zM357.26,648.66h2.00v2.00h-2.00zM357.26,654.40h2.00v2.00h-2.00zM357.26,660.14h2.00v2.00h-2.00zM357.26,665.88h2.00v2.00h-2.00zM357.26,671.62h2.00v2.00h-2.00zM357.26,677.36h2.00v2.00h-2.00zM357.26,683.10h2.00v2.00h-2.00zM357.26,688.84h2.00v2.00h-2.00zM357.26,694.58h2.00v2.00h-2.00zM357.26,700.32h2.00v2.00h-2.00zM363.00,545.34h2.00v2.00h-2.00zM363.00,551.08h2.00v2.00h-2.00zM363.00,556.82h2.00v2.00h-2.00zM363.00,562.56h2.00v2.00h-2.00zM363.00,568.30h2.00v2.00h-2.00zM363.00,574.04h2.00v2.00h-2.00zM363.00,579.78h2.00v2.00h-2.00zM363.00,585.52h2.00v2.00h-2.00zM363.00,591.26h2.00v2.00h-2.00zM363.00,597.00h2.00v2.00h-2.00zM363.00,602.74h2.00v2.00h-2.00zM363.00,608.48h2.00v2.00h-2.00zM363.00,614.22h2.00v2.00h-2.00zM363.00,619.96h2.00v2.00h-2.00zM363.00,625.70h2.00v2.00h-2.00zM363.00,631.44h2.00v2.00h-2.00zM363.00,637.18h2.00v2.00h-2.00zM363.00,642.92h2.00v2.00h-2.00zM363.00,648.66h2.00v2.00h-2.00zM363.00,654.40h2.00v2.00h-2.00zM363.00,660.14h2.00v2.00h-2.00zM363.00,665.88h2.00v2.00h-2.00zM363.00,671.62h2.00v2.00h-2.00zM363.00,677.36h2.00v2.00h-2.00zM363.00,683.10h2.00v2.00h-2.00zM363.00,688.84h2.00v2.00h-2.00zM363.00,694.58h2.00v2.00h-2.00zM363.00,700.32h2.00v2.00h-2.00zM368.74,545.34h2.00v2.00h-2.00zM368.74,551.08h2.00v2.00h-2.00zM368.74,556.82h2.00v2.00h-2.00zM368.74,562.56h2.00v2.00h-2.00zM368.74,568.30h2.00v2.00h-2.00zM368.74,574.04h2.00v2.00h-2.00zM368.74,579.78h2.00v2.00h-2.00zM368.74,585.52h2.00v2.00h-2.00zM368.74,591.26h2.00v2.00h-2.00zM368.74,597.00h2.00v2.00h-2.00zM368.74,602.74h2.00v2.00h-2.00zM368.74,608.48h2.00v2.00h-2.00zM368.74,614.22h2.00v2.00h-2.00zM368.74,619.96h2.00v2.00h-2.00zM368.74,625.70h2.00v2.00h-2.00zM368.74,631.44h2.00v2.00h-2.00zM368.74,637.18h2.00v2.00h-2.00zM368.74,642.92h2.00v2.00h-2.00zM368.74,648.66h2.00v2.00h-2.00zM368.74,654.40h2.00v2.00h-2.00zM368.74,660.14h2.00v2.00h-2.00zM368.74,665.88h2.00v2.00h-2.00zM368.74,671.62h2.00v2.00h-2.00zM368.74,677.36h2.00v2.00h-2.00zM368.74,683.10h2.00v2.00h-2.00zM368.74,688.84h2.00v2.00h-2.00zM368.74,694.58h2.00v2.00h-2.00zM368.74,700.32h2.00v2.00h-2.00zM374.48,545.34h2.00v2.00h-2.00zM374.48,551.08h2.00v2.00h-2.00zM374.48,556.82h2.00v2.00h-2.00zM374.48,562.56h2.00v2.00h-2.00zM374.48,568.30h2.00v2.00h-2.00zM374.48,574.04h2.00v2.00h-2.00zM374.48,579.78h2.00v2.00h-2.00zM374.48,585.52h2.00v2.00h-2.00zM374.48,591.26h2.00v2.00h-2.00zM374.48,597.00h2.00v2.00h-2.00zM374.48,602.74h2.00v2.00h-2.00zM374.48,608.48h2.00v2.00h-2.00zM374.48,614.22h2.00v2.00h-2.00zM374.48,619.96h2.00v2.00h-2.00zM374.48,625.70h2.00v2.00h-2.00zM374.48,631.44h2.00v2.00h-2.00zM374.48,637.18h2.00v2.00h-2.00zM374.48,642.92h2.00v2.00h-2.00zM374.48,648.66h2.00v2.00h-2.00zM374.48,654.40h2.00v2.00h-2.00zM374.48,660.14h2.00v2.00h-2.00zM374.48,665.88h2.00v2.00h-2.00zM374.48,671.62h2.00v2.00h-2.00zM374.48,677.36h2.00v2.00h-2.00zM374.48,683.10h2.00v2.00h-2.00zM374.48,688.84h2.00v2.00h-2.00zM374.48,694.58h2.00v2.00h-2.00zM374.48,700.32h2.00v2.00h-2.00z" fill="#ff0000"/></g><rect x="342.40" y="547.30" width="31.80" height="153.60" fill="none" stroke="#000" stroke-width="1.60"/>
<rect x="380.5" y="508.0" width="395.3" height="83.2" fill="#fff" stroke="#000" stroke-width="1"/>
<rect x="386.6" y="518.2" width="32.7" height="10.9" fill="#000" stroke="#000" stroke-width="1"/>
<g clip-path="url(#c14)"><path d="M384.90,536.70 L421.00,500.60 M384.90,542.44 L421.00,506.34 M384.90,548.18 L421.00,512.08 M384.90,553.92 L421.00,517.82 M384.90,559.66 L421.00,523.56 M384.90,565.40 L421.00,529.30 M384.90,571.14 L421.00,535.04 M384.90,576.88 L421.00,540.78 M384.90,582.62 L421.00,546.52 M384.90,588.36 L421.00,552.26 M384.90,594.10 L421.00,558.00" stroke="#000" stroke-width="1.05" fill="none"/></g><rect x="386.9" y="543.2" width="32.1" height="10.5" fill="none" stroke="#000" stroke-width="1.6"/>
<g clip-path="url(#c15)"><path d="M385.96,568.30h2.00v2.00h-2.00zM385.96,574.04h2.00v2.00h-2.00zM385.96,579.78h2.00v2.00h-2.00zM391.70,568.30h2.00v2.00h-2.00zM391.70,574.04h2.00v2.00h-2.00zM391.70,579.78h2.00v2.00h-2.00zM397.44,568.30h2.00v2.00h-2.00zM397.44,574.04h2.00v2.00h-2.00zM397.44,579.78h2.00v2.00h-2.00zM403.18,568.30h2.00v2.00h-2.00zM403.18,574.04h2.00v2.00h-2.00zM403.18,579.78h2.00v2.00h-2.00zM408.92,568.30h2.00v2.00h-2.00zM408.92,574.04h2.00v2.00h-2.00zM408.92,579.78h2.00v2.00h-2.00zM414.66,568.30h2.00v2.00h-2.00zM414.66,574.04h2.00v2.00h-2.00zM414.66,579.78h2.00v2.00h-2.00z" fill="#000"/></g><rect x="386.9" y="569.6" width="32.1" height="9.9" fill="none" stroke="#000" stroke-width="1.6"/>
<g opacity="0.99" style="will-change:opacity"><text opacity="0.99" x="10.52" y="25.50" font-size="21.50" textLength="6.16" lengthAdjust="spacingAndGlyphs">(</text>
<text opacity="0.99" x="17.12" y="25.50" font-size="19.50" textLength="10.43" lengthAdjust="spacingAndGlyphs">a</text>
<text opacity="0.99" x="27.30" y="25.50" font-size="21.50" textLength="5.92" lengthAdjust="spacingAndGlyphs">)</text>
<text opacity="0.99" x="234.82" y="52.60" font-size="19.50" stroke="#000" stroke-width="0.6" textLength="62.38" lengthAdjust="spacingAndGlyphs">Sessile</text>
<text opacity="0.99" x="305.15" y="52.60" font-size="19.50" stroke="#000" stroke-width="0.6" textLength="73.13" lengthAdjust="spacingAndGlyphs">Contact</text>
<text opacity="0.99" x="388.78" y="52.60" font-size="19.50" stroke="#000" stroke-width="0.6" textLength="64.24" lengthAdjust="spacingAndGlyphs">Angles</text>
<text opacity="0.99" x="461.28" y="52.60" font-size="19.50" stroke="#000" stroke-width="0.6" textLength="49.13" lengthAdjust="spacingAndGlyphs">After</text>
<text opacity="0.99" x="519.18" y="52.60" font-size="19.50" stroke="#000" stroke-width="0.6" textLength="21.75" lengthAdjust="spacingAndGlyphs">30</text>
<text opacity="0.99" x="548.28" y="52.60" font-size="19.50" stroke="#000" stroke-width="0.6" textLength="46.75" lengthAdjust="spacingAndGlyphs">Days</text>
<text opacity="0.99" x="56.27" y="326.70" font-size="20.50" textLength="10.37" lengthAdjust="spacingAndGlyphs">0</text><text opacity="0.99" x="66.64" y="325.70" font-size="19.00" textLength="7.70" lengthAdjust="spacingAndGlyphs">°</text>
<text opacity="0.99" x="46.72" y="291.70" font-size="20.50" textLength="20.12" lengthAdjust="spacingAndGlyphs">30</text><text opacity="0.99" x="66.84" y="290.70" font-size="19.00" textLength="7.47" lengthAdjust="spacingAndGlyphs">°</text>
<text opacity="0.99" x="46.91" y="256.70" font-size="20.50" textLength="19.97" lengthAdjust="spacingAndGlyphs">60</text><text opacity="0.99" x="66.88" y="255.70" font-size="19.00" textLength="7.41" lengthAdjust="spacingAndGlyphs">°</text>
<text opacity="0.99" x="47.11" y="221.70" font-size="20.50" textLength="19.82" lengthAdjust="spacingAndGlyphs">90</text><text opacity="0.99" x="66.93" y="220.70" font-size="19.00" textLength="7.36" lengthAdjust="spacingAndGlyphs">°</text>
<text opacity="0.99" x="37.05" y="186.70" font-size="20.50" textLength="29.85" lengthAdjust="spacingAndGlyphs">120</text><text opacity="0.99" x="66.90" y="185.70" font-size="19.00" textLength="7.39" lengthAdjust="spacingAndGlyphs">°</text>
<text opacity="0.99" x="37.05" y="151.70" font-size="20.50" textLength="29.85" lengthAdjust="spacingAndGlyphs">150</text><text opacity="0.99" x="66.90" y="150.70" font-size="19.00" textLength="7.39" lengthAdjust="spacingAndGlyphs">°</text>
<text opacity="0.99" x="37.05" y="116.70" font-size="20.50" textLength="29.85" lengthAdjust="spacingAndGlyphs">180</text><text opacity="0.99" x="66.90" y="115.70" font-size="19.00" textLength="7.39" lengthAdjust="spacingAndGlyphs">°</text>
<g transform="translate(27.50,0) rotate(-90)"><text opacity="0.99" x="-322.91" y="0.00" font-size="19.50" textLength="69.55" lengthAdjust="spacingAndGlyphs">Average</text></g>
<g transform="translate(27.50,0) rotate(-90)"><text opacity="0.99" x="-248.37" y="0.00" font-size="19.50" textLength="50.19" lengthAdjust="spacingAndGlyphs">Water</text></g>
<g transform="translate(27.50,0) rotate(-90)"><text opacity="0.99" x="-191.80" y="0.00" font-size="19.50" textLength="65.12" lengthAdjust="spacingAndGlyphs">Contact</text></g>
<g transform="translate(27.50,0) rotate(-90)"><text opacity="0.99" x="-119.28" y="0.00" font-size="19.50" textLength="48.54" lengthAdjust="spacingAndGlyphs">Angle</text></g>
<text opacity="0.99" x="152.97" y="91.80" font-size="19.50" textLength="77.98" lengthAdjust="spacingAndGlyphs">Repeated</text>
<text opacity="0.99" x="237.81" y="91.80" font-size="19.50" textLength="103.84" lengthAdjust="spacingAndGlyphs">Goniometry,</text>
<text opacity="0.99" x="347.60" y="91.80" font-size="19.50" textLength="33.28" lengthAdjust="spacingAndGlyphs">Day</text>
<text opacity="0.99" x="387.04" y="91.80" font-size="19.50" textLength="19.37" lengthAdjust="spacingAndGlyphs">30</text>
<text opacity="0.99" x="153.46" y="117.70" font-size="19.50" textLength="103.14" lengthAdjust="spacingAndGlyphs">Undisturbed</text>
<text opacity="0.99" x="263.36" y="117.70" font-size="19.50" textLength="19.15" lengthAdjust="spacingAndGlyphs">30</text>
<text opacity="0.99" x="289.38" y="117.70" font-size="19.50" textLength="42.51" lengthAdjust="spacingAndGlyphs">Days</text>
<text opacity="0.99" x="336.17" y="117.70" font-size="19.50" textLength="6.48" lengthAdjust="spacingAndGlyphs">-</text>
<text opacity="0.99" x="348.97" y="117.70" font-size="19.50" textLength="10.63" lengthAdjust="spacingAndGlyphs">1</text>
<text opacity="0.99" x="358.63" y="111.10" font-size="13.60" textLength="12.85" lengthAdjust="spacingAndGlyphs">st</text>
<text opacity="0.99" x="378.13" y="117.70" font-size="19.50" textLength="54.63" lengthAdjust="spacingAndGlyphs">Sessile</text>
<text opacity="0.99" x="153.46" y="144.20" font-size="19.50" textLength="103.14" lengthAdjust="spacingAndGlyphs">Undisturbed</text>
<text opacity="0.99" x="263.36" y="144.20" font-size="19.50" textLength="19.15" lengthAdjust="spacingAndGlyphs">30</text>
<text opacity="0.99" x="289.38" y="144.20" font-size="19.50" textLength="42.51" lengthAdjust="spacingAndGlyphs">Days</text>
<text opacity="0.99" x="336.17" y="144.20" font-size="19.50" textLength="6.48" lengthAdjust="spacingAndGlyphs">-</text>
<text opacity="0.99" x="349.93" y="144.20" font-size="19.50" textLength="9.78" lengthAdjust="spacingAndGlyphs">2</text>
<text opacity="0.99" x="359.66" y="137.60" font-size="13.60" textLength="16.63" lengthAdjust="spacingAndGlyphs">nd</text>
<text opacity="0.99" x="382.73" y="144.20" font-size="19.50" textLength="54.74" lengthAdjust="spacingAndGlyphs">Sessile</text>
<text opacity="0.99" x="114.09" y="342.30" font-size="20.50" textLength="10.14" lengthAdjust="spacingAndGlyphs">0</text>
<text opacity="0.99" x="130.41" y="342.10" font-size="19.50" textLength="65.14" lengthAdjust="spacingAndGlyphs">mL·min</text>
<text opacity="0.99" x="195.71" y="335.30" font-size="13.60" textLength="20.03" lengthAdjust="spacingAndGlyphs">−1</text>
<text opacity="0.99" x="280.79" y="342.30" font-size="20.50" textLength="10.14" lengthAdjust="spacingAndGlyphs">0</text>
<text opacity="0.99" x="297.11" y="342.10" font-size="19.50" textLength="65.14" lengthAdjust="spacingAndGlyphs">mL·min</text>
<text opacity="0.99" x="362.41" y="335.30" font-size="13.60" textLength="20.03" lengthAdjust="spacingAndGlyphs">−1</text>
<text opacity="0.99" x="426.20" y="342.30" font-size="20.50" textLength="53.18" lengthAdjust="spacingAndGlyphs">10,000</text>
<text opacity="0.99" x="485.71" y="342.10" font-size="19.50" textLength="65.14" lengthAdjust="spacingAndGlyphs">mL·min</text>
<text opacity="0.99" x="551.01" y="335.30" font-size="13.60" textLength="20.03" lengthAdjust="spacingAndGlyphs">−1</text>
<text opacity="0.99" x="592.60" y="342.30" font-size="20.50" textLength="53.18" lengthAdjust="spacingAndGlyphs">10,000</text>
<text opacity="0.99" x="652.11" y="342.10" font-size="19.50" textLength="65.14" lengthAdjust="spacingAndGlyphs">mL·min</text>
<text opacity="0.99" x="717.41" y="335.30" font-size="13.60" textLength="20.03" lengthAdjust="spacingAndGlyphs">−1</text>
<text opacity="0.99" x="134.99" y="365.00" font-size="19.50" font-style="italic" textLength="59.78" lengthAdjust="spacingAndGlyphs">no-post</text>
<text opacity="0.99" x="468.20" y="365.00" font-size="19.50" font-style="italic" textLength="59.68" lengthAdjust="spacingAndGlyphs">no-post</text>
<text opacity="0.99" x="281.68" y="365.00" font-size="19.50" font-style="italic" textLength="28.08" lengthAdjust="spacingAndGlyphs">CO</text>
<text opacity="0.99" x="309.46" y="368.30" font-size="13.60" font-style="italic" textLength="7.60" lengthAdjust="spacingAndGlyphs">2</text>
<text opacity="0.99" x="317.95" y="365.00" font-size="19.50" font-style="italic" textLength="64.97" lengthAdjust="spacingAndGlyphs">-reactor</text>
<text opacity="0.99" x="614.68" y="365.00" font-size="19.50" font-style="italic" textLength="28.08" lengthAdjust="spacingAndGlyphs">CO</text>
<text opacity="0.99" x="642.46" y="368.30" font-size="13.60" font-style="italic" textLength="7.60" lengthAdjust="spacingAndGlyphs">2</text>
<text opacity="0.99" x="650.95" y="365.00" font-size="19.50" font-style="italic" textLength="64.97" lengthAdjust="spacingAndGlyphs">-reactor</text>
<text opacity="0.99" x="10.20" y="406.60" font-size="21.50" textLength="6.30" lengthAdjust="spacingAndGlyphs">(</text>
<text opacity="0.99" x="17.22" y="406.60" font-size="19.50" textLength="10.69" lengthAdjust="spacingAndGlyphs">b</text>
<text opacity="0.99" x="27.67" y="406.60" font-size="21.50" textLength="6.18" lengthAdjust="spacingAndGlyphs">)</text>
<text opacity="0.99" x="87.47" y="433.90" font-size="19.50" stroke="#000" stroke-width="0.6" textLength="81.89" lengthAdjust="spacingAndGlyphs">Variance</text>
<text opacity="0.99" x="177.69" y="433.90" font-size="19.50" stroke="#000" stroke-width="0.6" textLength="17.60" lengthAdjust="spacingAndGlyphs">in</text>
<text opacity="0.99" x="203.05" y="433.90" font-size="19.50" stroke="#000" stroke-width="0.6" textLength="47.02" lengthAdjust="spacingAndGlyphs">Data</text>
<text opacity="0.99" x="257.59" y="433.90" font-size="19.50" stroke="#000" stroke-width="0.6" textLength="45.73" lengthAdjust="spacingAndGlyphs">After</text>
<text opacity="0.99" x="312.15" y="433.90" font-size="19.50" stroke="#000" stroke-width="0.6" textLength="19.61" lengthAdjust="spacingAndGlyphs">30</text>
<text opacity="0.99" x="338.14" y="433.90" font-size="19.50" stroke="#000" stroke-width="0.6" textLength="53.66" lengthAdjust="spacingAndGlyphs">Days</text>
<text opacity="0.99" x="64.00" y="707.80" font-size="20.50" textLength="10.02" lengthAdjust="spacingAndGlyphs">0</text>
<text opacity="0.99" x="54.26" y="646.45" font-size="20.50" textLength="19.76" lengthAdjust="spacingAndGlyphs">50</text>
<text opacity="0.99" x="44.04" y="585.10" font-size="20.50" textLength="29.99" lengthAdjust="spacingAndGlyphs">100</text>
<text opacity="0.99" x="44.04" y="523.75" font-size="20.50" textLength="29.99" lengthAdjust="spacingAndGlyphs">150</text>
<text opacity="0.99" x="45.04" y="462.40" font-size="20.50" textLength="28.97" lengthAdjust="spacingAndGlyphs">200</text>
<g transform="translate(35.60,0) rotate(-90)"><text opacity="0.99" x="-630.32" y="0.00" font-size="19.50" textLength="77.26" lengthAdjust="spacingAndGlyphs">Variance,</text></g>
<g transform="translate(35.60,0) rotate(-90)"><text opacity="0.99" x="-546.69" y="0.00" font-size="19.50" font-style="italic" textLength="10.48" lengthAdjust="spacingAndGlyphs">σ</text></g>
<g transform="translate(28.20,0) rotate(-90)"><text opacity="0.99" x="-534.34" y="0.00" font-size="13.60" textLength="7.10" lengthAdjust="spacingAndGlyphs">2</text></g>
<text opacity="0.99" x="423.79" y="528.80" font-size="19.50" textLength="32.72" lengthAdjust="spacingAndGlyphs">Full</text>
<text opacity="0.99" x="462.86" y="528.80" font-size="19.50" textLength="63.62" lengthAdjust="spacingAndGlyphs">Dataset</text>
<text opacity="0.99" x="534.37" y="528.80" font-size="19.50" textLength="5.57" lengthAdjust="spacingAndGlyphs">-</text>
<text opacity="0.99" x="546.57" y="528.80" font-size="19.50" textLength="77.58" lengthAdjust="spacingAndGlyphs">Repeated</text>
<text opacity="0.99" x="630.81" y="528.80" font-size="19.50" textLength="99.77" lengthAdjust="spacingAndGlyphs">Goniometry</text>
<text opacity="0.99" x="423.10" y="554.80" font-size="20.50" textLength="12.53" lengthAdjust="spacingAndGlyphs">0</text>
<text opacity="0.99" x="441.13" y="554.60" font-size="19.50" textLength="63.31" lengthAdjust="spacingAndGlyphs">mL·min</text>
<text opacity="0.99" x="505.36" y="547.80" font-size="13.60" textLength="19.10" lengthAdjust="spacingAndGlyphs">−1</text>
<text opacity="0.99" x="531.16" y="554.60" font-size="19.50" textLength="5.70" lengthAdjust="spacingAndGlyphs">-</text>
<text opacity="0.99" x="545.76" y="554.60" font-size="19.50" textLength="103.24" lengthAdjust="spacingAndGlyphs">Undisturbed</text>
<text opacity="0.99" x="654.82" y="554.60" font-size="19.50" textLength="19.70" lengthAdjust="spacingAndGlyphs">30</text>
<text opacity="0.99" x="681.70" y="554.60" font-size="19.50" textLength="41.06" lengthAdjust="spacingAndGlyphs">Days</text>
<text opacity="0.99" x="423.22" y="580.70" font-size="20.50" textLength="52.66" lengthAdjust="spacingAndGlyphs">10,000</text>
<text opacity="0.99" x="483.11" y="580.50" font-size="19.50" textLength="65.25" lengthAdjust="spacingAndGlyphs">mL·min</text>
<text opacity="0.99" x="549.15" y="573.70" font-size="13.60" textLength="19.33" lengthAdjust="spacingAndGlyphs">−1</text>
<text opacity="0.99" x="575.53" y="580.50" font-size="19.50" textLength="5.96" lengthAdjust="spacingAndGlyphs">-</text>
<text opacity="0.99" x="587.75" y="580.50" font-size="19.50" textLength="103.85" lengthAdjust="spacingAndGlyphs">Undisturbed</text>
<text opacity="0.99" x="699.02" y="580.50" font-size="19.50" textLength="18.03" lengthAdjust="spacingAndGlyphs">30</text>
<text opacity="0.99" x="724.30" y="580.50" font-size="19.50" textLength="41.27" lengthAdjust="spacingAndGlyphs">Days</text>
<text opacity="0.99" x="128.87" y="720.00" font-size="19.50" font-style="italic" textLength="61.40" lengthAdjust="spacingAndGlyphs">no-post</text>
<text opacity="0.99" x="267.98" y="720.00" font-size="19.50" font-style="italic" textLength="28.08" lengthAdjust="spacingAndGlyphs">CO</text>
<text opacity="0.99" x="295.76" y="723.30" font-size="13.60" font-style="italic" textLength="7.60" lengthAdjust="spacingAndGlyphs">2</text>
<text opacity="0.99" x="304.25" y="720.00" font-size="19.50" font-style="italic" textLength="64.87" lengthAdjust="spacingAndGlyphs">-reactor</text></g>
</svg>
</body></html>
